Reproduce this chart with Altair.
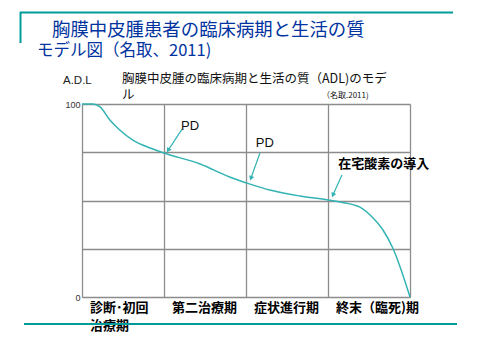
import altair as alt
import pandas as pd

# ---- data ----
curve_x = [0.0, 0.13, 0.22, 0.34, 0.46, 0.62, 0.83, 1.0, 1.44, 1.8, 2.05, 2.29, 2.66, 3.0,
           3.15, 3.39, 3.55, 3.67, 3.79, 4.0]
curve_y = [100, 100, 98.5, 91.7, 86.5, 81.3, 77.2, 74.6, 68.9, 62.2, 58.5, 55.4, 52.3, 50.3,
           49.2, 46.6, 40.9, 34.7, 25.4, 0]

stages = ["診断･初回\n治療期", "第二治療期", "症状進行期", "終末（臨死)期"]
stage_start = [0, 1, 2, 3]

ann_text = ["PD", "PD", "在宅酸素の導入"]
ann_x = [1.317, 2.23, 3.68]
ann_y = [88.6, 79.8, 68.9]
ann_bold = ["normal", "normal", "bold"]

arrow_x = [1.22, 2.17, 3.17]
arrow_y = [87.0, 74.6, 63.2]
arrow_x2 = [1.05, 2.06, 3.06]
arrow_y2 = [76.0, 61.5, 52.8]
arrow_angle = [213, 200, 204]

y_ticks = [0, 25, 50, 75, 100]
x_ticks = [0, 1, 2, 3, 4]

title1 = "胸膜中皮腫患者の臨床病期と生活の質"
title2 = "モデル図（名取、2011)"
subtitle = "胸膜中皮腫の臨床病期と生活の質（ADL)のモデ\nル"
source = "（名取.2011)"
y_name = "A.D.L"

CJK = "Noto Sans CJK JP"
TEAL = "#009c9c"
LINE = "#33b3b3"

curve_df = pd.DataFrame({"x": curve_x, "y": curve_y})
stage_df = pd.DataFrame({"label": stages, "x": stage_start, "y": [0] * 4})
ann_df = pd.DataFrame({"t": ann_text, "x": ann_x, "y": ann_y, "w": ann_bold})
arr_df = pd.DataFrame({"x": arrow_x, "y": arrow_y, "x2": arrow_x2, "y2": arrow_y2, "a": arrow_angle})

xs = alt.Scale(domain=[0, 4], nice=False)
ys = alt.Scale(domain=[0, 100], nice=False)

base = alt.Chart(curve_df)

grid = base.mark_line(opacity=0).encode(
    x=alt.X("x:Q", scale=xs, axis=alt.Axis(values=x_ticks, grid=True, labels=False, ticks=False,
                                           domain=False, title=None, gridColor="#8c8c8c", gridWidth=1.3)),
    y=alt.Y("y:Q", scale=ys, axis=alt.Axis(values=y_ticks, grid=True, ticks=False, domain=False, title=None,
                                           gridColor="#8c8c8c", gridWidth=1.3,
                                           labelExpr="datum.value == 0 || datum.value == 100 ? datum.label : ''",
                                           labelFontSize=9, labelColor="#333", labelPadding=2,
                                           labelFont="Liberation Sans")),
)

curve = base.mark_line(color=LINE, strokeWidth=1.5, interpolate="monotone").encode(
    x=alt.X("x:Q", scale=xs), y=alt.Y("y:Q", scale=ys)
)

stage_text = alt.Chart(stage_df).mark_text(
    align="left", baseline="top", dx=8, dy=5, font=CJK, fontWeight="bold", fontSize=13,
    lineBreak="\n", lineHeight=18, color="#000"
).encode(x=alt.X("x:Q", scale=xs), y=alt.Y("y:Q", scale=ys), text="label:N")

arrows = alt.Chart(arr_df).mark_rule(color=LINE, strokeWidth=1.2).encode(
    x=alt.X("x:Q", scale=xs), y=alt.Y("y:Q", scale=ys), x2="x2:Q", y2="y2:Q"
)
heads = alt.Chart(arr_df).mark_point(shape="triangle-up", filled=True, color=LINE, size=28, opacity=1).encode(
    x=alt.X("x2:Q", scale=xs), y=alt.Y("y2:Q", scale=ys), angle=alt.Angle("a:Q", scale=None)
)

ann_pd = alt.Chart(ann_df[ann_df.w == "normal"]).mark_text(
    font="Liberation Sans", fontSize=13, color="#111"
).encode(x=alt.X("x:Q", scale=xs), y=alt.Y("y:Q", scale=ys), text="t:N")
ann_o2 = alt.Chart(ann_df[ann_df.w == "bold"]).mark_text(
    font=CJK, fontSize=13, fontWeight="bold", color="#000"
).encode(x=alt.X("x:Q", scale=xs), y=alt.Y("y:Q", scale=ys), text="t:N")

def ptext(txt, x, y, **kw):
    return alt.Chart(pd.DataFrame({"t": [txt]})).mark_text(align="left", **kw).encode(
        x=alt.value(x), y=alt.value(y), text="t:N")

def hline(x1, x2, y, w=2):
    return alt.Chart(pd.DataFrame({"a": [0]})).mark_rule(color=TEAL, strokeWidth=w).encode(
        x=alt.value(x1), x2=alt.value(x2), y=alt.value(y))

def vline(x, y1, y2, w=2):
    return alt.Chart(pd.DataFrame({"a": [0]})).mark_rule(color=TEAL, strokeWidth=w).encode(
        x=alt.value(x), y=alt.value(y1), y2=alt.value(y2))

deco = [
    hline(-62, 371, -91.5),
    vline(-61.5, -92, -61),
    hline(-58, 375, 220),
    ptext(title1, -30, -74, baseline="middle", font=CJK, fontSize=18.4, color="#0033a0"),
    ptext(title2, -45, -53, baseline="middle", font=CJK, fontSize=16.5, color="#0033a0"),
    ptext(y_name, -19, -23, baseline="middle", font="Liberation Sans", fontSize=11.5, color="#222"),
    ptext(subtitle, 40, -31, baseline="top", font=CJK, fontSize=12.5, color="#111",
          lineBreak="\n", lineHeight=16),
    ptext(source, 240, -8, baseline="middle", font=CJK, fontSize=8, color="#111"),
]

chart = alt.layer(grid, curve, arrows, heads, ann_pd, ann_o2, stage_text, *deco).properties(
    width=328, height=193,
    autosize=alt.AutoSizeParams(type="none"),
    padding={"left": 74, "top": 96, "right": 62, "bottom": 50},
).configure_view(stroke=None).configure(background="white")

chart.save("out.html", embed_options={"renderer": "svg", "actions": False})
